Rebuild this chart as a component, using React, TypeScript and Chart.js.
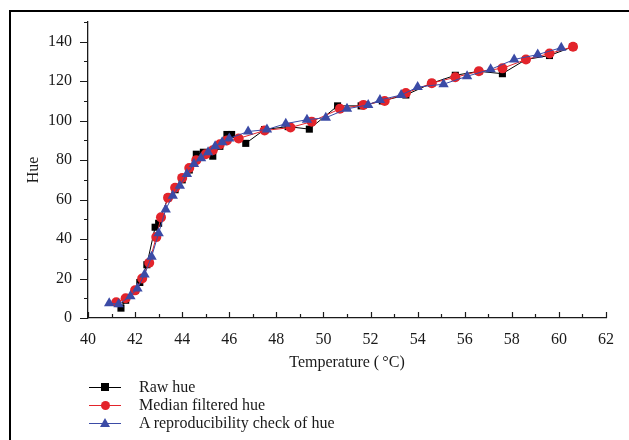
import React, { useEffect, useRef } from "react";
import { Chart, registerables } from "chart.js";

Chart.register(...registerables);

// ---- data ----
const rawTemp = [41.4, 41.6, 42.0, 42.2, 42.5, 42.85, 43.0, 43.4, 43.7, 44.0, 44.3, 44.6, 44.9, 45.3, 45.6, 45.9, 46.1, 46.7, 47.5, 48.5, 49.4, 50.6, 51.6, 52.5, 53.5, 54.6, 55.6, 56.6, 57.6, 58.6, 59.6, 60.6];
const rawHue = [5, 9, 14, 18, 27, 46, 48, 61, 65, 70, 75, 83, 84, 82, 87, 93, 93, 88.5, 95.5, 97, 95.7, 107.5, 107.5, 110, 113, 119, 123, 125, 123.8, 131, 133, 137.5];

const medTemp = [41.2, 41.6, 42.0, 42.3, 42.6, 42.9, 43.1, 43.4, 43.7, 44.0, 44.3, 44.6, 45.0, 45.3, 45.6, 45.9, 46.4, 47.5, 48.6, 49.5, 50.7, 51.7, 52.6, 53.5, 54.6, 55.6, 56.6, 57.6, 58.6, 59.6, 60.6];
const medHue = [8, 10, 14, 20, 28, 41, 51, 61, 66, 71, 76, 80, 83, 85, 88, 90, 91, 95, 96.5, 99.5, 106, 108, 110, 114, 119, 122, 125, 126.5, 131, 134, 137.5];

const repTemp = [40.9, 41.3, 41.8, 42.1, 42.4, 42.7, 43.0, 43.3, 43.6, 43.9, 44.2, 44.5, 44.8, 45.1, 45.4, 45.7, 46.0, 46.8, 47.6, 48.4, 49.3, 50.1, 51.0, 51.9, 52.4, 53.3, 54.0, 55.1, 56.1, 57.1, 58.1, 59.1, 60.1];
const repHue = [7.5, 7, 11, 15, 22, 31, 43, 55, 62, 67, 73, 78, 81, 84, 87, 89, 91, 94.5, 95.5, 98.5, 100.5, 101.5, 106, 108, 110.5, 113, 117, 118.5, 122.5, 126, 131, 133.5, 137];

const xTickLabels = [40, 42, 44, 46, 48, 50, 52, 54, 56, 58, 60, 62];
const yTickLabels = [0, 20, 40, 60, 80, 100, 120, 140];

const seriesNames = ["Raw hue", "Median filtered hue", "A reproducibility check of hue"];
const seriesColors = ["#000000", "#e3242b", "#3b4ba6"];

const FONT = "'Liberation Serif', 'DejaVu Serif', serif";
const AXIS = "#1a1a1a";
const FSIZE = 16;

const toPoints = (xs: number[], ys: number[]) => xs.map((x, i) => ({ x, y: ys[i] }));

const tickPlugin = {
  id: "customTicks",
  afterDraw(chart: any) {
    const { ctx } = chart;
    const xs = chart.scales.x;
    const ys = chart.scales.y;
    ctx.save();
    ctx.strokeStyle = AXIS;
    ctx.lineWidth = 1.2;
    ctx.beginPath();
    for (let v = 0; v <= 150; v += 10) {
      const py = Math.round(ys.getPixelForValue(v)) + 0.5;
      const len = yTickLabels.includes(v) ? 8 : 4;
      ctx.moveTo(xs.left - len, py);
      ctx.lineTo(xs.left, py);
    }
    for (let v = 40; v <= 62; v += 1) {
      const px = Math.round(xs.getPixelForValue(v)) + 0.5;
      const len = xTickLabels.includes(v) ? 6 : 4;
      ctx.moveTo(px, ys.bottom);
      ctx.lineTo(px, ys.bottom - len);
    }
    ctx.stroke();
    ctx.restore();
  },
};

function LegendMarker({ idx }: { idx: number }) {
  const c = seriesColors[idx];
  let marker: React.ReactNode;
  if (idx === 0) {
    marker = <div style={{ position: "absolute", left: 12, top: -4, width: 8, height: 8, background: c }} />;
  } else if (idx === 1) {
    marker = <div style={{ position: "absolute", left: 11.5, top: -4.5, width: 9, height: 9, borderRadius: "50%", background: c }} />;
  } else {
    marker = (
      <div
        style={{
          position: "absolute",
          left: 11,
          top: -5,
          width: 0,
          height: 0,
          borderLeft: "5px solid transparent",
          borderRight: "5px solid transparent",
          borderBottom: `9px solid ${c}`,
        }}
      />
    );
  }
  return (
    <div style={{ position: "relative", width: 32, height: 0 }}>
      <div style={{ position: "absolute", left: 0, top: 0, width: 32, height: 1, background: c }} />
      {marker}
    </div>
  );
}

export default function App() {
  const canvasRef = useRef<HTMLCanvasElement | null>(null);

  useEffect(() => {
    if (!canvasRef.current) return;
    const mk = (i: number, xs: number[], ys: number[], style: any, radius: number, order: number) => ({
      label: seriesNames[i],
      data: toPoints(xs, ys),
      borderColor: seriesColors[i],
      backgroundColor: seriesColors[i],
      pointBackgroundColor: seriesColors[i],
      pointBorderColor: seriesColors[i],
      borderWidth: 1,
      pointStyle: style,
      pointRadius: radius,
      pointBorderWidth: 0,
      tension: 0,
      fill: false,
      order,
    });
    const chart = new Chart(canvasRef.current, {
      type: "line",
      data: {
        datasets: [
          mk(0, rawTemp, rawHue, "rect", 5, 3),
          mk(1, medTemp, medHue, "circle", 5, 2),
          mk(2, repTemp, repHue, "triangle", 6, 1),
        ] as any,
      },
      plugins: [tickPlugin],
      options: {
        animation: false,
        responsive: false,
        maintainAspectRatio: false,
        layout: { padding: { left: 24, right: 23, top: 22, bottom: 68 } },
        plugins: { legend: { display: false }, tooltip: { enabled: false } },
        scales: {
          x: {
            type: "linear",
            min: 40,
            max: 62,
            grid: { display: false, drawTicks: false },
            border: { display: true, color: AXIS, width: 1.3 },
            ticks: {
              stepSize: 1,
              autoSkip: false,
              maxRotation: 0,
              padding: 12,
              color: AXIS,
              font: { family: FONT, size: FSIZE },
              callback: (v: any) => (xTickLabels.includes(Number(v)) ? String(v) : ""),
            },
            title: {
              display: true,
              text: "Temperature (\u2009°C)",
              color: AXIS,
              font: { family: FONT, size: FSIZE },
              padding: 0,
            },
            afterFit: (s: any) => {
              s.height = 54;
            },
          },
          y: {
            type: "linear",
            min: 0,
            max: 150,
            grid: { display: false, drawTicks: false },
            border: { display: true, color: AXIS, width: 1.3 },
            ticks: {
              stepSize: 10,
              autoSkip: false,
              padding: 16,
              color: AXIS,
              font: { family: FONT, size: FSIZE },
              callback: (v: any) => (yTickLabels.includes(Number(v)) ? String(v) : ""),
            },
            title: {
              display: true,
              text: "Hue",
              color: AXIS,
              font: { family: FONT, size: FSIZE },
              padding: 0,
            },
            afterFit: (s: any) => {
              s.width = 64;
              s.paddingTop = 0;
              s.paddingBottom = 0;
            },
          },
        },
      } as any,
    });
    return () => chart.destroy();
  }, []);

  return (
    <div style={{ position: "fixed", left: 0, top: 0, width: 629, height: 440, background: "#fff", overflow: "hidden" }}>
      <div
        style={{
          position: "absolute",
          left: 9,
          top: 10,
          width: 700,
          height: 500,
          borderTop: "2px solid #000",
          borderLeft: "2px solid #000",
        }}
      />
      <canvas ref={canvasRef} width={629} height={440} style={{ position: "absolute", left: 0, top: 0, width: 629, height: 440 }} />
      <div style={{ position: "absolute", left: 89, top: 378, fontFamily: FONT, fontSize: FSIZE, color: AXIS }}>
        {seriesNames.map((n, i) => (
          <div key={n} style={{ display: "flex", alignItems: "center", height: 18 }}>
            <LegendMarker idx={i} />
            <span style={{ marginLeft: 18, lineHeight: "18px" }}>{n}</span>
          </div>
        ))}
      </div>
    </div>
  );
}
